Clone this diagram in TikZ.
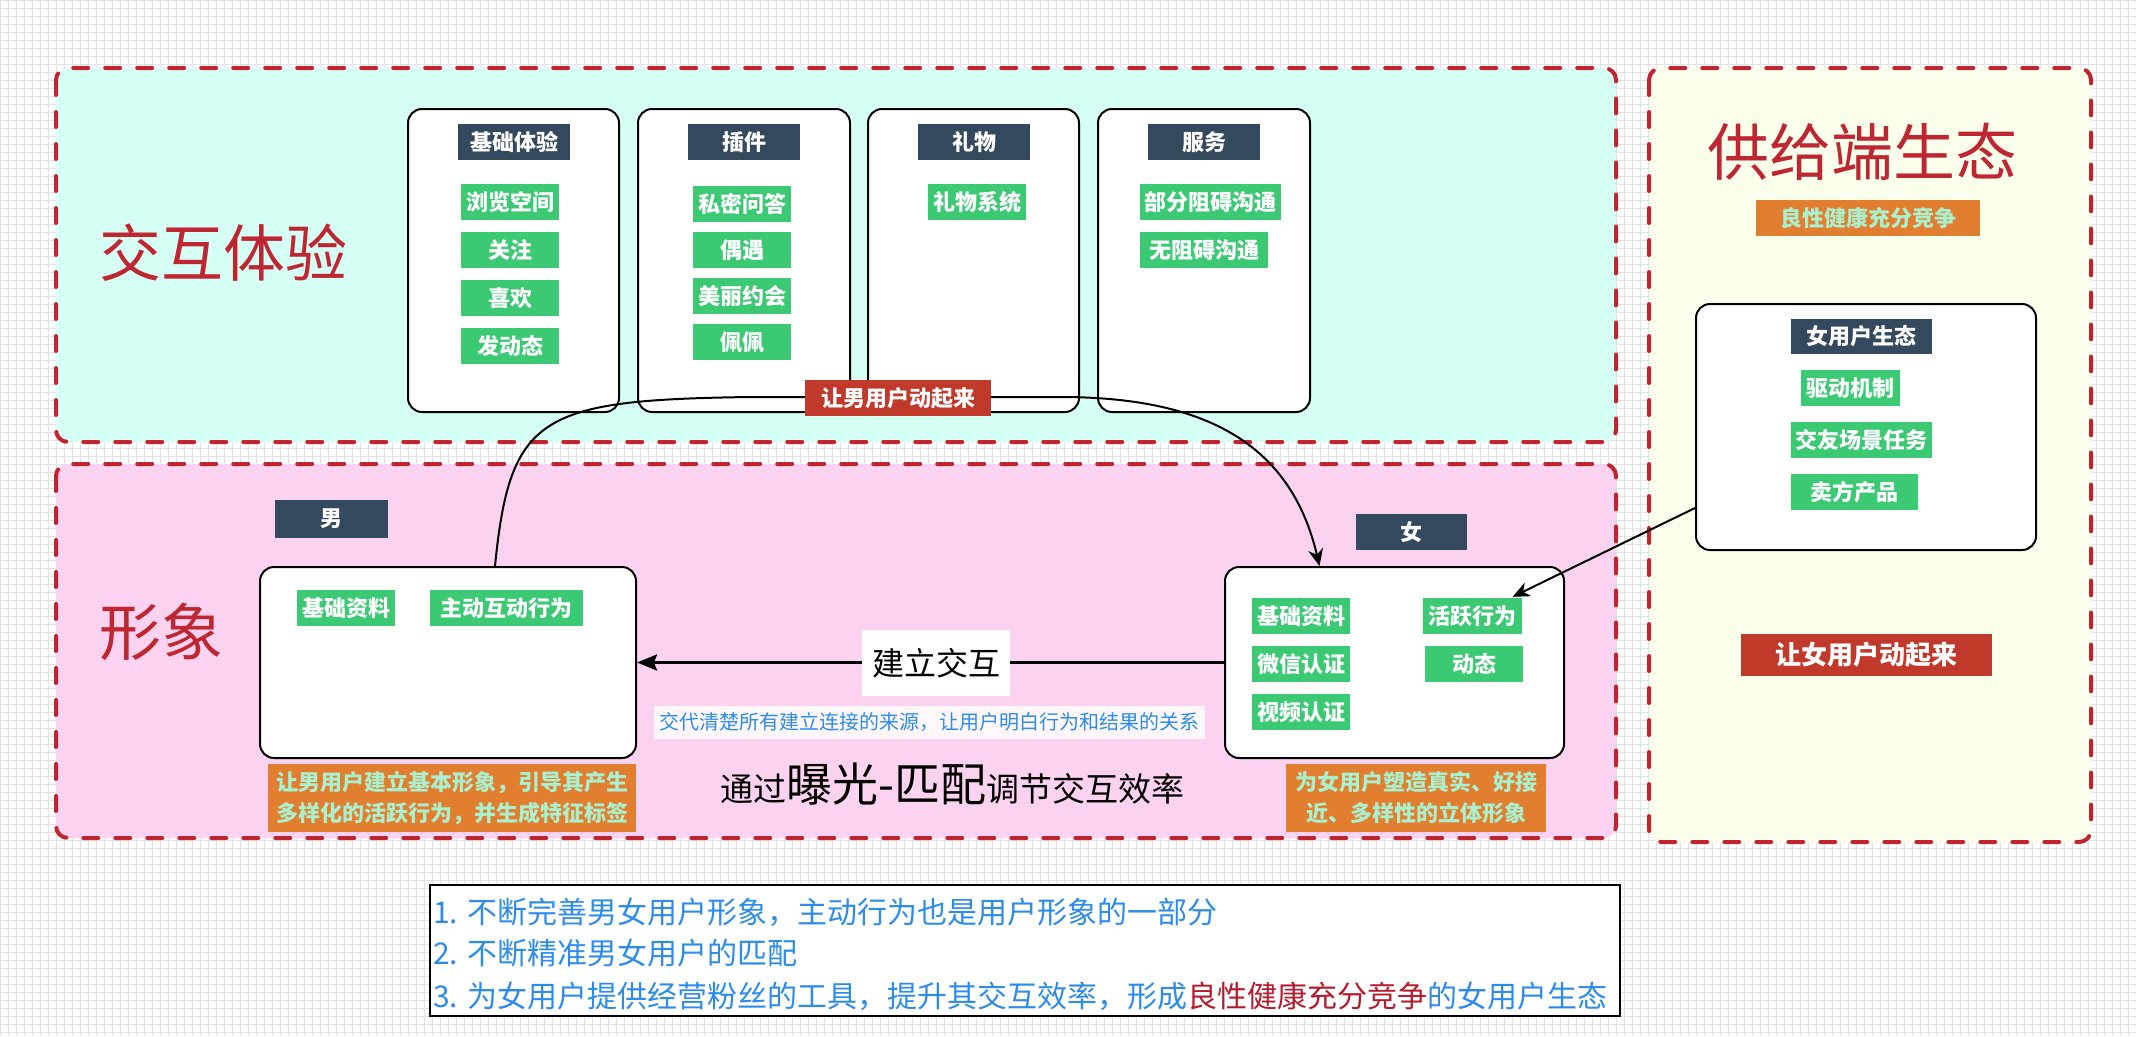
\documentclass[tikz,border=0pt]{standalone}
\usepackage{fontspec}
\setmainfont{Noto Sans CJK SC}
\usetikzlibrary{arrows.meta}
\definecolor{regred}{RGB}{192,36,48}
\definecolor{tealfill}{RGB}{213,255,245}
\definecolor{pinkfill}{RGB}{251,211,240}
\definecolor{yelfill}{RGB}{250,255,236}
\definecolor{hdr}{RGB}{52,73,94}
\definecolor{grn}{RGB}{60,201,116}
\definecolor{org}{RGB}{226,126,48}
\definecolor{mint}{RGB}{170,240,205}
\definecolor{lblred}{RGB}{192,57,43}
\definecolor{titred}{RGB}{190,38,50}
\definecolor{txtblue}{RGB}{45,140,235}
\definecolor{gridc}{RGB}{226,226,226}
\definecolor{boxred}{RGB}{180,28,45}
\definecolor{descfill}{RGB}{253,247,252}
\begin{document}
\begin{tikzpicture}[x=1pt,y=-1pt,
  region/.style={draw=regred, line width=4pt, dash pattern=on 15pt off 17pt, line cap=round, rounded corners=12pt},
  card/.style={draw=black, line width=2pt, fill=white, rounded corners=14pt, inner sep=0pt},
  hdrbox/.style={fill=hdr, text=white, font=\fontsize{22}{26}\selectfont\bfseries, inner sep=0pt, minimum height=36pt, minimum width=112pt},
  item/.style={fill=grn, text=white, font=\fontsize{22}{26}\selectfont\bfseries, inner sep=0pt, minimum height=36pt, minimum width=98pt},
  orgbox/.style={fill=org, text=mint, font=\fontsize{22}{31}\selectfont\bfseries, inner sep=0pt, align=center},
  redlbl/.style={fill=lblred, text=white, inner sep=0pt},
  title/.style={text=titred, font=\fontsize{62}{70}\selectfont, inner sep=0pt},
  conn/.style={draw=black, line width=2pt, -{Stealth[length=17pt,width=15pt]}},
  sumline/.style={anchor=west, inner sep=0pt, text=txtblue, font=\fontsize{30}{36}\selectfont}
]
\useasboundingbox (0,0) rectangle (2136,1036);
\fill[white] (0,0) rectangle (2136,1036);
\draw[gridc, line width=1pt, step=8pt] (0,1036) grid (2136,0);

% regions
\draw[region, fill=tealfill] (56,68) rectangle (1616,442);
\draw[region, fill=pinkfill] (56,464) rectangle (1616,838);
\draw[region, fill=yelfill] (1649,68) rectangle (2091,842);

% titles
\node[title] (t1) at (223,253) {交互体验};
\node[title] (t2) at (161,632) {形象};
\node[title] (t3) at (1862,152) {供给端生态};

% top cards
\node[card, minimum width=211pt, minimum height=303pt] (c1) at (513.5,260.5) {};
\node[card, minimum width=212pt, minimum height=303pt] (c2) at (744,260.5) {};
\node[card, minimum width=211pt, minimum height=303pt] (c3) at (973.5,260.5) {};
\node[card, minimum width=212pt, minimum height=303pt] (c4) at (1204,260.5) {};

\node[hdrbox] (h1) at (514,142) {基础体验};
\node[hdrbox] (h2) at (744,142) {插件};
\node[hdrbox] (h3) at (974,142) {礼物};
\node[hdrbox] (h4) at (1204,142) {服务};

\node[item] (a1) at (510,202) {浏览空间};
\node[item] (a2) at (510,250) {关注};
\node[item] (a3) at (510,298) {喜欢};
\node[item] (a4) at (510,346) {发动态};

\node[item] (b1) at (742,204) {私密问答};
\node[item] (b2) at (742,250) {偶遇};
\node[item] (b3) at (742,296) {美丽约会};
\node[item] (b4) at (742,342) {佩佩};

\node[item] (g1) at (977,202) {礼物系统};

\node[item, minimum width=141pt] (s1) at (1210,202) {部分阻碍沟通};
\node[item, minimum width=128pt] (s2) at (1204,250) {无阻碍沟通};

% supply side
\node[orgbox, minimum width=224pt, minimum height=36pt] (good) at (1868,218) {良性健康充分竞争};
\node[card, minimum width=340pt, minimum height=246pt] (ecard) at (1866,427) {};
\node[hdrbox, minimum width=141pt, minimum height=35pt] (he) at (1861,336) {女用户生态};
\node[item, minimum width=99pt] (e1) at (1850,388) {驱动机制};
\node[item, minimum width=141pt] (e2) at (1861,440) {交友场景任务};
\node[item, minimum width=127pt] (e3) at (1854,492) {卖方产品};
\node[redlbl, minimum width=251pt, minimum height=42pt, font=\fontsize{26}{30}\selectfont\bfseries] (lf) at (1866,655) {让女用户动起来};

% male
\node[hdrbox, minimum width=113pt, minimum height=38pt] (hm) at (331,519) {男};
\node[card, minimum width=376pt, minimum height=191pt] (mcard) at (448,662.5) {};
\node[item] (m1) at (346,608) {基础资料};
\node[item, minimum width=153pt] (m2) at (506,608) {主动互动行为};
\node[orgbox, minimum width=368pt, minimum height=68pt] (mdesc) at (452,798) {让男用户建立基本形象，引导其产生\\多样化的活跃行为，并生成特征标签};

% female
\node[hdrbox, minimum width=111pt, minimum height=36pt] (hf) at (1411,532) {女};
\node[card, minimum width=339pt, minimum height=191pt] (fcard) at (1394.5,662.5) {};
\node[item] (f1) at (1301,616) {基础资料};
\node[item] (f2) at (1301,664) {微信认证};
\node[item] (f3) at (1301,712) {视频认证};
\node[item, minimum width=99pt] (fa1) at (1472,616) {活跃行为};
\node[item] (fa2) at (1474,664) {动态};
\node[orgbox, minimum width=260pt, minimum height=68pt] (fdesc) at (1416,798) {为女用户塑造真实、好接\\近、多样性的立体形象};

% connectors
\draw[conn] ([xshift=47pt]mcard.north) .. controls (510,415) and (540,400) .. (750,397) -- (1060,397) .. controls (1200,397) and (1290,440) .. ([xshift=-75pt]fcard.north);
\node[redlbl, minimum width=186pt, minimum height=36pt, font=\fontsize{22}{26}\selectfont\bfseries] (lm) at (898,398) {让男用户动起来};

\draw[conn] ([yshift=-81pt]ecard.west) -- ([xshift=-9pt,yshift=1pt]fa1.north east);

\draw[draw=black, line width=2.5pt, -{Stealth[length=20pt,width=16pt,inset=3pt]}] (fcard.west) -- (mcard.east);
\node[fill=white, font=\fontsize{32}{36}\selectfont, minimum width=148pt, minimum height=66pt, inner sep=0pt] (build) at (936,663) {建立交互};
\node[fill=descfill, text=txtblue, font=\fontsize{20}{24}\selectfont, minimum width=551pt, minimum height=33pt, inner sep=0pt] (desc) at (929.5,722.5) {交代清楚所有建立连接的来源，让用户明白行为和结果的关系};

\node[anchor=base west, inner sep=0pt, font=\fontsize{33}{40}\selectfont] (expo) at (720,801) {通过{\fontsize{46}{50}\selectfont 曝光-匹配}调节交互效率};

% summary
\node[draw=black, line width=1.5pt, fill=white, minimum width=1190pt, minimum height=131pt, inner sep=0pt] (sum) at (1025,950.5) {};
\node[sumline] (l1) at (433,912) {1. 不断完善男女用户形象，主动行为也是用户形象的一部分};
\node[sumline] (l2) at (433,953) {2. 不断精准男女用户的匹配};
\node[sumline] (l3) at (433,996) {3. 为女用户提供经营粉丝的工具，提升其交互效率，形成\textcolor{boxred}{良性健康充分竞争}的女用户生态};
\end{tikzpicture}
\end{document}
